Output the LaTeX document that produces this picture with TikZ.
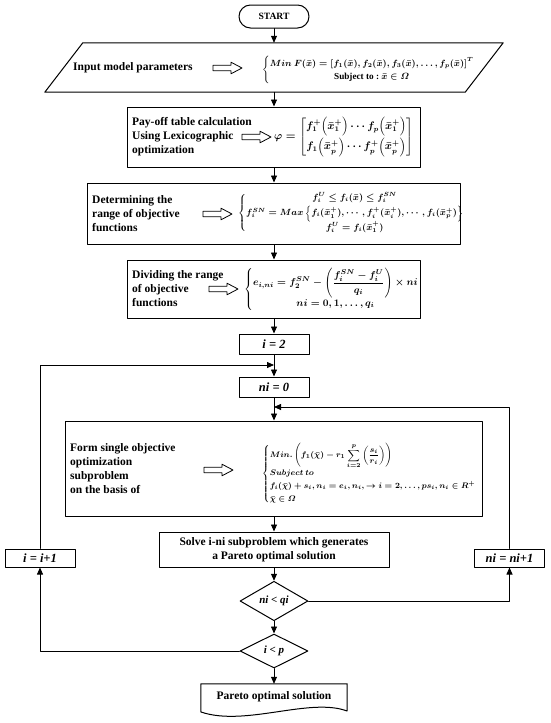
\documentclass[tikz,border=0pt]{standalone}
\usepackage{amsmath,amssymb}
\usepackage{fontspec}
\setmainfont{Liberation Serif}
\usepackage{tikz}
\usepackage{xcolor}
\usetikzlibrary{arrows.meta,shapes.geometric}

\newcommand{\hollowarrow}[1]{\draw[line width=0.8pt] (#1) ++(0,-2.7) -- ++(18,0) -- ++(0,-3.1)
  -- ++(11,5.8) -- ++(-11,5.8) -- ++(0,-3.1) -- ++(-18,0) -- cycle;}

\begin{document}
\begin{tikzpicture}[x=1pt, y=-1pt, line cap=round, line join=round,
  box/.style={draw, line width=1pt, inner sep=0pt},
  lbl/.style={font=\fontsize{11.5}{14}\selectfont\bfseries, align=left, inner sep=0pt},
  eqn/.style={inner sep=0pt},
  var/.style={font=\fontsize{12.5}{14}\selectfont\bfseries\itshape},
  arr/.style={-{Triangle[length=7pt,width=6pt]}, line width=0.8pt}]
\useasboundingbox (0,0) rectangle (550,723);

\node[box, rounded corners=11.5pt, minimum width=70pt, minimum height=23pt,
  font=\fontsize{9.6}{11}\selectfont\bfseries] (start) at (274,16.5) {START};

\node[minimum width=420pt, minimum height=49pt, inner sep=0pt] (inp) at (274,67.5) {};
\draw[box] ([xshift=-19pt]inp.south west) -- ([xshift=19pt]inp.north west)
  -- ([xshift=19pt]inp.north east) -- ([xshift=-19pt]inp.south east) -- cycle;
\node[lbl, anchor=west] (inptxt) at (73,68) {Input model parameters};
\coordinate (ha1) at (213,68);
\hollowarrow{ha1}
\node[eqn, anchor=west, font=\fontsize{9.2}{11}\selectfont\bfseries\boldmath] (eq1) at (262,70) {$\left\{\begin{array}{@{}c@{}}
  Min\ F(\bar{x}) = \left[f_1(\bar{x}), f_2(\bar{x}), f_3(\bar{x}), \ldots, f_p(\bar{x})\right]^T\\[2pt]
  \text{Subject to :}\ \bar{x}\in\varOmega
  \end{array}\right.$};

\node[box, minimum width=293pt, minimum height=60pt] (pay) at (274,137) {};
\node[lbl, anchor=west] (paytxt) at (132,137) {Pay-off table calculation\\Using Lexicographic\\optimization};
\coordinate (ha2) at (242,137);
\hollowarrow{ha2}
\node[eqn, anchor=west, font=\fontsize{10.5}{12}\selectfont\bfseries\boldmath] (eq2) at (274,137) {$\varphi = \begin{bmatrix}
  f_1^+\Big(\bar{x}_1^+\Big)\cdots f_p\Big(\bar{x}_1^+\Big)\\[4pt]
  f_1\Big(\bar{x}_p^+\Big)\cdots f_p^+\Big(\bar{x}_p^+\Big)
  \end{bmatrix}$};

\node[box, minimum width=373pt, minimum height=61pt] (rng) at (274,213.5) {};
\node[lbl, anchor=west] (rngtxt) at (92,214) {Determining the\\range of objective\\functions};
\coordinate (ha3) at (203,214);
\hollowarrow{ha3}
\node[eqn, anchor=west, font=\fontsize{8.8}{11}\selectfont\bfseries\boldmath] (eq3) at (238,213) {$\left\{\begin{array}{@{}c@{}}
  f_i^U \le f_i(\bar{x}) \le f_i^{SN}\\[2pt]
  f_i^{SN} = Max\left\{f_i(\bar{x}_1^+), \cdots, f_i^+(\bar{x}_i^+), \cdots, f_i(\bar{x}_p^+)\right\}\\[2pt]
  f_i^U = f_i(\bar{x}_1^+)
  \end{array}\right.$};

\node[box, minimum width=293pt, minimum height=58pt] (div) at (274,289) {};
\node[lbl, anchor=west] (divtxt) at (132,289) {Dividing the range\\of objective\\functions};
\coordinate (ha4) at (209,289);
\hollowarrow{ha4}
\node[eqn, anchor=west, font=\fontsize{10}{12}\selectfont\bfseries\boldmath] (eq4) at (244,289) {$\left\{\begin{array}{@{}c@{}}
  e_{i,ni} = f_2^{SN} - \left(\dfrac{f_i^{SN} - f_i^U}{q_i}\right)\times ni\\
  ni = 0, 1, \ldots, q_i
  \end{array}\right.$};

\node[box, var, minimum width=70pt, minimum height=20pt] (i2) at (274,344) {i = 2};
\node[box, var, minimum width=70pt, minimum height=20pt] (ni0) at (274,387) {ni = 0};
\coordinate (ji) at (274,365);
\coordinate (jn) at (274,407);

\node[box, minimum width=417pt, minimum height=95pt] (form) at (274,468.5) {};
\node[lbl, anchor=west] (formtxt) at (70,469) {Form single objective\\optimization\\subproblem\\on the basis of};
\coordinate (ha5) at (204,470);
\hollowarrow{ha5}
\node[eqn, anchor=west, font=\fontsize{8}{10}\selectfont\bfseries\boldmath] (eq5) at (262,474) {$\left\{\begin{array}{@{}l@{}}
  Min.\left(f_1(\bar{\chi}) - r_1\displaystyle\sum_{i=2}^{p}\left(\frac{s_i}{r_i}\right)\right)\\[3pt]
  Subject\ to\\[3pt]
  f_i(\bar{\chi}) + s_i, n_i = e_i, n_i, \to i = 2, \ldots, p s_i, n_i \in R^+\\[3pt]
  \bar{\chi}\in\varOmega
  \end{array}\right.$};

\node[box, lbl, align=center, minimum width=230pt, minimum height=35pt] (solve) at (274,549.5)
  {Solve i-ni subproblem which generates\\a Pareto optimal solution};
\node[box, var, minimum width=70pt, minimum height=18pt] (inci) at (40,558) {i = i+1};
\node[box, var, minimum width=70pt, minimum height=18pt] (incn) at (509.5,558) {ni = ni+1};

\node[box, diamond, minimum width=68pt, minimum height=34pt,
  font=\fontsize{11}{13}\selectfont\bfseries\itshape] (dq) at (274,601) {ni < qi};
\node[box, diamond, minimum width=68pt, minimum height=34pt,
  font=\fontsize{11}{13}\selectfont\bfseries\itshape] (dp) at (274,651) {i < p};

\node[lbl, minimum width=146pt, minimum height=26pt] (par) at (274,697) {Pareto optimal solution};
\draw[box] (par.south west) -- (par.north west) -- (par.north east) -- (347,711)
  .. controls (310,697) and (245,727) .. (201,712) -- cycle;

\draw[arr] (start.south) -- (inp.north);
\draw[arr] (inp.south) -- (pay.north);
\draw[arr] (pay.south) -- (rng.north);
\draw[arr] (rng.south) -- (div.north);
\draw[arr] (div.south) -- (i2.north);
\draw[arr] (i2.south) -- (ni0.north);
\draw[arr] (ni0.south) -- (form.north);
\draw[arr] (form.south) -- (solve.north);
\draw[arr] (solve.south) -- (dq.north);
\draw[arr] (dq.south) -- (dp.north);
\draw[arr] (dp.south) -- (par.north);
\draw[arr] (dq.east) -| (incn.south);
\draw[arr] (incn.north) |- (jn);
\draw[arr] (dp.west) -| (inci.south);
\draw[arr] (inci.north) |- (ji);
\end{tikzpicture}
\end{document}
